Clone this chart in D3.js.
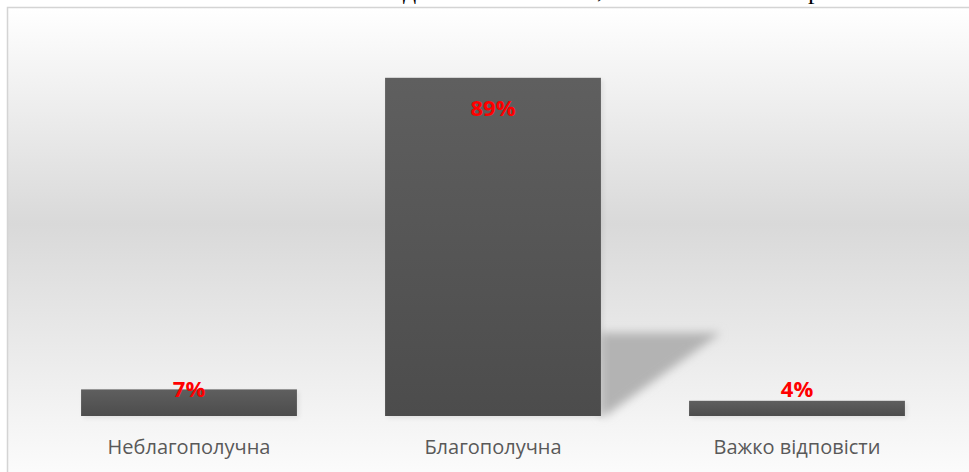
<!DOCTYPE html>
<html>
<head>
<meta charset="utf-8">
<script src="https://d3js.org/d3.v7.min.js"></script>
<style>
  html, body { margin: 0; padding: 0; background: #fff; overflow: hidden; }
</style>
</head>
<body>
<svg id="chart" width="969" height="472"></svg>
<script>
    // data
    const categories = ["Неблагополучна", "Благополучна", "Важко відповісти"];
    const percents = [7, 89, 4];
    const valueLabels = ["7%", "89%", "4%"];

    const W = 969, H = 472;
    const baseY = 416;

    const svg = d3.select("#chart");
    const defs = svg.append("defs");

    // background gradient of the chart area
    const bg = defs.append("linearGradient").attr("id", "bgGrad")
        .attr("x1", 0).attr("y1", 0).attr("x2", 0).attr("y2", 1);
    bg.append("stop").attr("offset", "0%").attr("stop-color", "#ffffff");
    bg.append("stop").attr("offset", "44%").attr("stop-color", "#d9d9d9");
    bg.append("stop").attr("offset", "100%").attr("stop-color", "#ffffff");

    const barGrad = defs.append("linearGradient").attr("id", "barGrad")
        .attr("x1", 0).attr("y1", 0).attr("x2", 0).attr("y2", 1);
    barGrad.append("stop").attr("offset", "0%").attr("stop-color", "#5f5f5f");
    barGrad.append("stop").attr("offset", "100%").attr("stop-color", "#4c4c4c");

    defs.append("filter").attr("id", "blur")
        .attr("x", "-20%").attr("y", "-20%").attr("width", "140%").attr("height", "140%")
        .append("feGaussianBlur").attr("stdDeviation", 5);

    defs.append("filter").attr("id", "soft")
        .attr("x", "-10%").attr("y", "-30%").attr("width", "120%").attr("height", "160%")
        .append("feGaussianBlur").attr("stdDeviation", 2.5);

    // scraps of the text line above the chart (only the descenders show)
    const topText = svg.append("g")
        .style("font-family", "'Liberation Serif', 'DejaVu Serif', serif")
        .style("font-size", "26px")
        .attr("fill", "#000");
    topText.append("text").attr("x", 403).attr("y", -1).text("д");
    topText.append("text").attr("x", 597).attr("y", -2).text(",");
    topText.append("text").attr("x", 808).attr("y", -1).text("р");

    // frame
    svg.append("rect")
        .attr("x", 7.5).attr("y", 7.5)
        .attr("width", W + 20).attr("height", H + 20)
        .attr("fill", "url(#bgGrad)")
        .attr("stroke", "#d4d4d4")
        .attr("stroke-width", 1.5);

    const x = d3.scaleBand()
        .domain(categories)
        .range([37, 949])
        .paddingInner(0.29)
        .paddingOuter(0.145);

    const y = d3.scaleLinear()
        .domain([0, 100])
        .range([baseY, 36]);

    // perspective shadow behind the tallest bar
    const iMax = d3.maxIndex(percents);
    const sx = x(categories[iMax]) + x.bandwidth();
    const sTop = y(percents[iMax]) + 255;
    svg.append("path")
        .attr("d", d3.line()([[sx, sTop], [sx + 120, sTop], [sx + 4, baseY], [sx, baseY]]))
        .attr("fill", "#b3b3b3")
        .attr("filter", "url(#blur)");

    // soft glow under bars
    svg.append("g").selectAll("rect")
        .data(percents)
        .join("rect")
        .attr("x", (d, i) => x(categories[i]) + 2)
        .attr("y", d => y(d) + 2)
        .attr("width", x.bandwidth())
        .attr("height", d => baseY - y(d))
        .attr("fill", "#000")
        .attr("opacity", 0.08)
        .attr("filter", "url(#soft)");

    svg.append("g").selectAll("rect")
        .data(percents)
        .join("rect")
        .attr("x", (d, i) => x(categories[i]))
        .attr("y", d => y(d))
        .attr("width", x.bandwidth())
        .attr("height", d => baseY - y(d))
        .attr("fill", "url(#barGrad)");

    // value labels
    svg.append("g").selectAll("text")
        .data(percents)
        .join("text")
        .attr("x", (d, i) => x(categories[i]) + x.bandwidth() / 2)
        .attr("y", d => Math.min(y(d) + 38, baseY - 19))
        .attr("text-anchor", "middle")
        .style("font-family", "'Open Sans', sans-serif")
        .style("font-weight", "bold")
        .style("font-size", "22px")
        .attr("fill", "#ff0000")
        .text((d, i) => valueLabels[i]);

    // category axis labels
    const xAxis = d3.axisBottom(x).tickSize(0).tickPadding(0);
    const gx = svg.append("g")
        .attr("transform", `translate(0,${baseY})`)
        .call(xAxis);
    gx.select(".domain").remove();
    gx.selectAll("text")
        .attr("dy", null)
        .attr("y", 38)
        .style("font-family", "'Open Sans', sans-serif")
        .style("font-size", "20px")
        .attr("fill", "#595959");
</script>
</body>
</html>
